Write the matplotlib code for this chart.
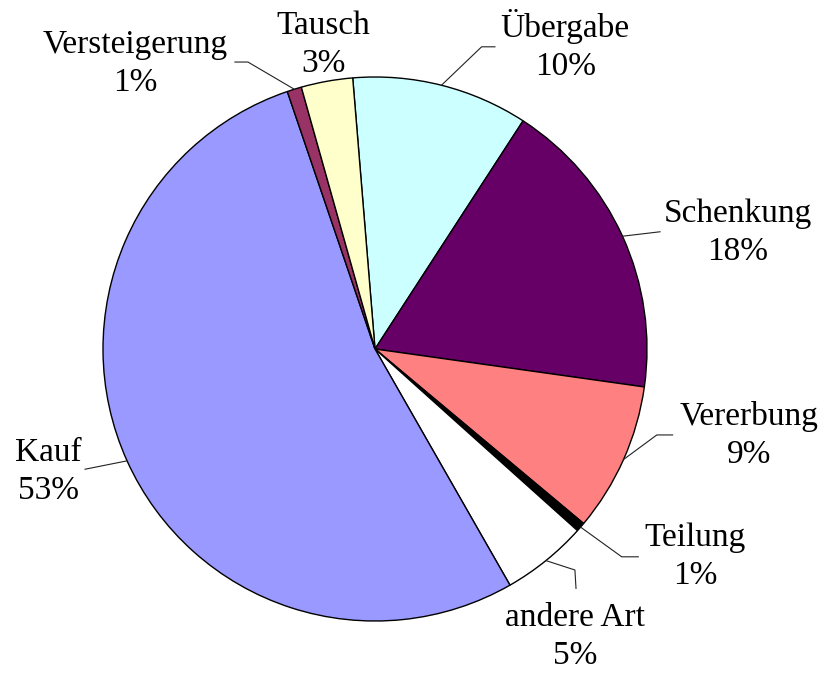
import numpy as np
import matplotlib
matplotlib.use("Agg")
import matplotlib.pyplot as plt

# slices, clockwise from just left of 12 o'clock
labels = ["Übergabe", "Schenkung", "Vererbung", "Teilung", "andere Art", "Kauf", "Versteigerung", "Tausch"]
shares = [10.47, 18.07, 8.86, 0.55, 5.1, 53.05, 0.86, 3.06]
colors = ["#CCFFFF", "#660066", "#FF8080", "#000000", "#FFFFFF", "#9999FF", "#993366", "#FFFFCC"]

# label centres and leader line points (pie radius = 1)
label_pos = {
    "Übergabe": (0.699, 1.115),
    "Schenkung": (1.335, 0.427),
    "Vererbung": (1.375, -0.319),
    "Teilung": (1.176, -0.764),
    "andere Art": (0.735, -1.058),
    "Kauf": (-1.202, -0.452),
    "Versteigerung": (-0.882, 1.048),
    "Tausch": (-0.191, 1.118),
}
leader_pts = {
    "Übergabe": [(0.392, 1.111), (0.441, 1.111)],
    "Schenkung": [(1.048, 0.431)],
    "Vererbung": [(1.036, -0.316), (1.094, -0.316)],
    "Teilung": [(0.907, -0.764), (0.968, -0.764)],
    "andere Art": [(0.735, -0.8125), (0.739, -0.880)],
    "Kauf": [(-1.066, -0.442)],
    "Versteigerung": [(-0.467, 1.055), (-0.515, 1.055)],
}

plt.rcParams["font.family"] = ["Liberation Serif", "DejaVu Serif"]

fig = plt.figure(figsize=(8.24, 6.73), dpi=100)
ax = fig.add_axes([0, 0, 1, 1])

wedges, _ = ax.pie(shares, colors=colors, startangle=94.7, counterclock=False,
                   wedgeprops=dict(edgecolor="black", linewidth=1.0))

total = sum(shares)
for w, lab, val in zip(wedges, labels, shares):
    pct = int(round(val / total * 100))
    x, y = label_pos[lab]
    ax.text(x, y, f"{lab}\n{pct}%", ha="center", va="center", fontsize=24, linespacing=1.32)
    if lab in leader_pts:
        mid = np.deg2rad((w.theta1 + w.theta2) / 2)
        pts = [(np.cos(mid), np.sin(mid))] + leader_pts[lab]
        xs, ys = zip(*pts)
        ax.plot(xs, ys, color="#222222", linewidth=0.8)

ax.set_xlim(-375 / 272, (824 - 375) / 272)
ax.set_ylim((349 - 673) / 272, 349 / 272)
ax.set_aspect("auto")
ax.axis("off")

fig.savefig("out.png", dpi=100, facecolor="white")
